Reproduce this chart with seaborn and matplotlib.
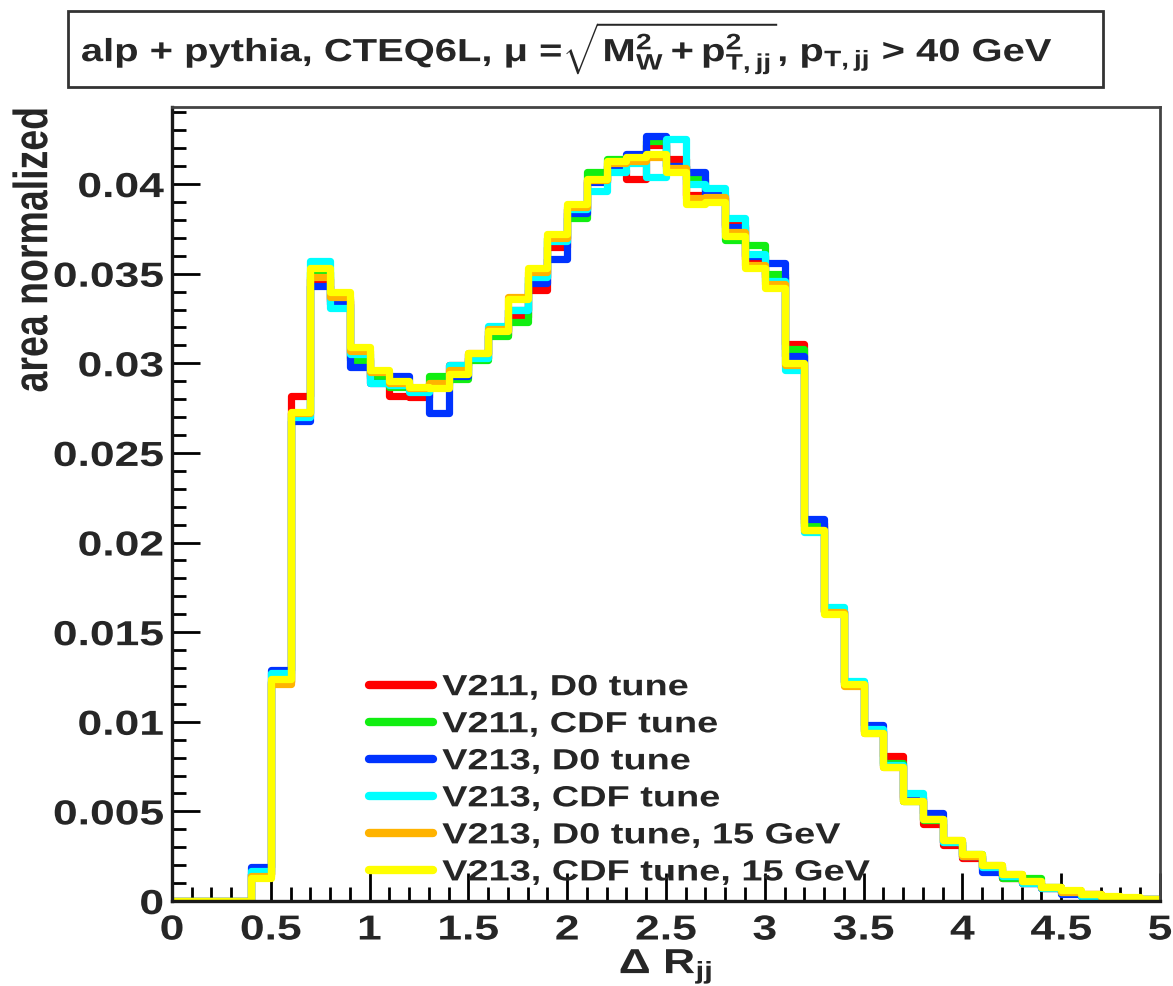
import numpy as np
import pandas as pd
import seaborn as sns
import matplotlib
matplotlib.use("Agg")
import matplotlib.pyplot as plt
from matplotlib.lines import Line2D
from matplotlib.patches import Rectangle
from matplotlib.patheffects import AbstractPathEffect
from matplotlib.transforms import Affine2D
from matplotlib.ticker import FixedLocator, MultipleLocator, FuncFormatter

# Delta R_jj binning: 50 bins of width 0.1 between 0 and 5
bin_edges = [round(0.1 * i, 2) for i in range(51)]

labels = [
    "V211, D0 tune",
    "V211, CDF tune",
    "V213, D0 tune",
    "V213, CDF tune",
    "V213, D0 tune, 15 GeV",
    "V213, CDF tune, 15 GeV",
]
colors = ["#ff0000", "#11ee11", "#0033ff", "#00ffff", "#ffb300", "#ffff00"]

# area-normalized bin contents, one list per generator setup (bins 0.0 ... 4.9)
v211_d0 = [0, 0, 0, 0, 0.0015, 0.0122, 0.0282, 0.0347, 0.0335, 0.0303,
           0.0292, 0.0282, 0.0281, 0.0289, 0.0299, 0.0303, 0.0316, 0.0326, 0.0341, 0.0365,
           0.0386, 0.0402, 0.0408, 0.0403, 0.0422, 0.0414, 0.0394, 0.0392, 0.0377, 0.0358,
           0.0348, 0.0311, 0.0211, 0.0162, 0.0122, 0.0095, 0.0081, 0.0058, 0.0043, 0.0031,
           0.0024, 0.0018, 0.0013, 0.0010, 0.0007, 0.0005, 0.0004, 0.0002, 0.0001, 0.0001]
v211_cdf = [0, 0, 0, 0, 0.0015, 0.0123, 0.0272, 0.0351, 0.0336, 0.0302,
            0.0293, 0.0287, 0.0285, 0.0293, 0.0291, 0.0302, 0.0315, 0.0323, 0.0348, 0.0370,
            0.0381, 0.0407, 0.0414, 0.0414, 0.0424, 0.0410, 0.0403, 0.0391, 0.0369, 0.0366,
            0.0350, 0.0308, 0.0209, 0.0161, 0.0121, 0.0095, 0.0077, 0.0056, 0.0045, 0.0033,
            0.0026, 0.0019, 0.0013, 0.0013, 0.0008, 0.0005, 0.0003, 0.0002, 0.0001, 0.0001]
v213_d0 = [0, 0, 0, 0, 0.0019, 0.0129, 0.0268, 0.0343, 0.0333, 0.0298,
           0.0289, 0.0293, 0.0285, 0.0272, 0.0293, 0.0305, 0.0318, 0.0330, 0.0345, 0.0358,
           0.0384, 0.0401, 0.0410, 0.0417, 0.0427, 0.0410, 0.0407, 0.0394, 0.0376, 0.0360,
           0.0356, 0.0304, 0.0213, 0.0162, 0.0122, 0.0098, 0.0076, 0.0057, 0.0049, 0.0033,
           0.0025, 0.0016, 0.0014, 0.0010, 0.0007, 0.0004, 0.0003, 0.0002, 0.0001, 0.0001]
v213_cdf = [0, 0, 0, 0, 0.0017, 0.0127, 0.0270, 0.0357, 0.0331, 0.0305,
            0.0289, 0.0288, 0.0284, 0.0288, 0.0299, 0.0303, 0.0321, 0.0330, 0.0348, 0.0368,
            0.0386, 0.0396, 0.0407, 0.0412, 0.0404, 0.0425, 0.0400, 0.0398, 0.0381, 0.0361,
            0.0346, 0.0296, 0.0206, 0.0164, 0.0123, 0.0096, 0.0076, 0.0060, 0.0046, 0.0033,
            0.0025, 0.0019, 0.0014, 0.0010, 0.0007, 0.0005, 0.0003, 0.0002, 0.0001, 0.0001]
v213_d0_15 = [0, 0, 0, 0, 0.0014, 0.0121, 0.0272, 0.0348, 0.0337, 0.0307,
              0.0295, 0.0289, 0.0286, 0.0289, 0.0296, 0.0306, 0.0319, 0.0337, 0.0351, 0.0370,
              0.0387, 0.0402, 0.0412, 0.0413, 0.0415, 0.0409, 0.0392, 0.0393, 0.0373, 0.0355,
              0.0344, 0.0299, 0.0207, 0.0161, 0.0120, 0.0094, 0.0075, 0.0056, 0.0046, 0.0034,
              0.0025, 0.0020, 0.0015, 0.0011, 0.0008, 0.0005, 0.0004, 0.0002, 0.0001, 0.0001]
v213_cdf_15 = [0, 0, 0, 0, 0.0013, 0.0124, 0.0273, 0.0353, 0.0340, 0.0309,
               0.0296, 0.0290, 0.0287, 0.0286, 0.0294, 0.0306, 0.0318, 0.0336, 0.0353, 0.0372,
               0.0389, 0.0403, 0.0413, 0.0415, 0.0417, 0.0407, 0.0389, 0.0390, 0.0371, 0.0353,
               0.0342, 0.0300, 0.0207, 0.0160, 0.0121, 0.0094, 0.0075, 0.0056, 0.0046, 0.0034,
               0.0026, 0.0020, 0.0015, 0.0011, 0.0008, 0.0006, 0.0004, 0.0003, 0.0002, 0.0001]

series = [v211_d0, v211_cdf, v213_d0, v213_cdf, v213_d0_15, v213_cdf_15]

title_text = (r"alp + pythia, CTEQ6L, $\mu$ =$\sqrt{M_{W}^{2} + p_{T,jj}^{2}}$, "
              r"p$_{T,jj}$ > 40 GeV")
x_title = r"$\Delta$ R$_{jj}$"
y_title = "area normalized"


class HStretch(AbstractPathEffect):
    """Widen glyph outlines horizontally about a chosen edge of the text."""

    def __init__(self, sx, anchor="center"):
        super().__init__()
        self._sx = sx
        self._anchor = anchor

    def draw_path(self, renderer, gc, tpath, affine, rgbFace=None):
        bb = tpath.get_extents(affine)
        if self._anchor == "left":
            cx = bb.x0
        elif self._anchor == "right":
            cx = bb.x1
        else:
            cx = 0.5 * (bb.x0 + bb.x1)
        stretched = affine + Affine2D().translate(-cx, 0).scale(self._sx, 1.0).translate(cx, 0)
        renderer.draw_path(gc, tpath, stretched, rgbFace)


sns.set_theme(style="ticks")
plt.rcParams.update({
    "font.family": ["Liberation Sans", "DejaVu Sans"],
    "font.weight": "bold",
    "mathtext.fontset": "custom",
    "mathtext.rm": "Liberation Sans:bold",
    "mathtext.it": "Liberation Sans:bold",
    "mathtext.bf": "Liberation Sans:bold",
    "mathtext.sf": "Liberation Sans:bold",
    "mathtext.default": "rm",
})

# long-form table of bin centres and contents
centres = [round(0.5 * (a + b), 3) for a, b in zip(bin_edges[:-1], bin_edges[1:])]
df = pd.concat(
    [pd.DataFrame({"dR": centres, "w": vals, "sample": lab}) for lab, vals in zip(labels, series)],
    ignore_index=True,
)

fig = plt.figure(figsize=(11.73, 9.87), dpi=100)
ax = fig.add_axes([0.1466, 0.0861, 0.8423, 0.8045])

for lab, col in zip(labels, colors):
    sub = df[df["sample"] == lab]
    sns.histplot(data=sub, x="dR", weights="w", bins=bin_edges, element="step",
                 fill=False, color=col, linewidth=5.2, ax=ax)

ax.set_xlim(0, 5)
ax.set_ylim(0, 0.0443)

ax.xaxis.set_major_locator(FixedLocator(np.arange(0, 5.01, 0.5)))
ax.xaxis.set_minor_locator(MultipleLocator(0.1))
ax.yaxis.set_major_locator(FixedLocator(np.arange(0, 0.0401, 0.005)))
ax.yaxis.set_minor_locator(MultipleLocator(0.001))
ax.xaxis.set_major_formatter(FuncFormatter(lambda v, p: f"{round(v, 3):g}"))
ax.yaxis.set_major_formatter(FuncFormatter(lambda v, p: f"{round(v, 4):g}"))

ax.tick_params(axis="both", which="both", direction="in", color="black",
               top=False, right=False)
ax.tick_params(axis="y", which="major", length=20, width=2.0, labelsize=25, pad=6)
ax.tick_params(axis="y", which="minor", length=10, width=2.0)
ax.tick_params(axis="x", which="major", length=20, width=2.0, labelsize=25, pad=9)
ax.tick_params(axis="x", which="minor", length=10, width=2.0)

for name, sp in ax.spines.items():
    sp.set_linewidth(2.4 if name in ("left", "bottom") else 2.0)
    sp.set_color("#1a1a1a" if name in ("left", "bottom") else "#444444")

ax.set_xlabel(x_title, fontsize=25, fontweight="bold")
ax.xaxis.set_label_coords(0.5, -0.058)
ax.xaxis.label.set_va("top")
ax.set_ylabel(y_title, fontsize=27, fontweight="bold", loc="top")
ax.yaxis.set_label_coords(-0.122, 1.0)

handles = [Line2D([], [], color=c, lw=6) for c in colors]
leg = ax.legend(handles, labels, loc="lower left", bbox_to_anchor=(0.185, 0.0),
                frameon=False, fontsize=21, handlelength=2.2, handletextpad=0.3,
                labelspacing=0.31, borderaxespad=0.1)

# title box above the frame
fig.add_artist(Rectangle((0.058, 0.9108), 0.882, 0.077, transform=fig.transFigure,
                         fill=False, edgecolor="#333333", linewidth=2.0))
title = fig.text(0.484, 0.949, title_text, ha="center", va="center",
                 fontsize=23, fontweight="bold")

# the lettering is drawn wide, as on the original canvas
for t in ax.get_yticklabels():
    t.set_path_effects([HStretch(1.28, "right")])
for t in ax.get_xticklabels():
    t.set_path_effects([HStretch(1.28, "center")])
for t in leg.get_texts():
    t.set_path_effects([HStretch(1.3, "left")])
ax.xaxis.label.set_path_effects([HStretch(1.28, "center")])
ax.yaxis.label.set_path_effects([HStretch(1.28, "center")])
title.set_path_effects([HStretch(1.25, "center")])

fig.savefig("out.png", dpi=100, facecolor="white")
